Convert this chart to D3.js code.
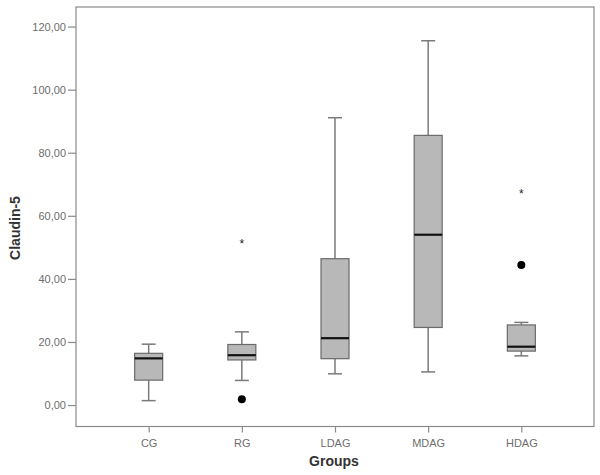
<!DOCTYPE html>
<html><head><meta charset="utf-8">
<script src="https://cdn.jsdelivr.net/npm/d3@7/dist/d3.min.js"></script>
<style>body{margin:0;background:#fff}</style>
</head><body>
<svg id="c" width="600" height="475"></svg>
<script>
const groups = ["CG","RG","LDAG","MDAG","HDAG"];
const whiskerLow  = [1.4, 7.8, 9.9, 10.5, 15.6];
const q1          = [7.9, 14.3, 14.7, 24.6, 17.1];
const median      = [14.8, 15.8, 21.2, 54.0, 18.5];
const q3          = [16.4, 19.2, 46.4, 85.5, 25.4];
const whiskerHigh = [19.3, 23.2, 91.1, 115.5, 26.2];
const outliers = [{g:"RG", v:1.8}, {g:"HDAG", v:44.4}];
const extremes = [{g:"RG", v:51.5}, {g:"HDAG", v:67.3}];
const yTicks = [0,20,40,60,80,100,120];

const svg = d3.select("#c");
const L=76, R=594, T=7, B=426.5;
const y = d3.scaleLinear().domain([-6.8,126.2]).range([B,T]);
const x = d3.scalePoint().domain(groups).range([L,R]).padding(0.78);
const fmt = d => d3.format(".2f")(d).replace(".",",");
const axisCol = "#8a8a8a";

// frame
svg.append("rect").attr("x",L).attr("y",T).attr("width",R-L).attr("height",B-T)
  .attr("fill","none").attr("stroke",axisCol).attr("stroke-width",1.2);

const yAxis = svg.append("g").attr("transform",`translate(${L},0)`)
  .call(d3.axisLeft(y).tickValues(yTicks).tickFormat(fmt).tickSize(8).tickPadding(2));
yAxis.select(".domain").remove();
yAxis.selectAll("line").attr("stroke",axisCol).attr("stroke-width",1.2);
yAxis.selectAll("text").attr("fill","#6e6e6e").style("font-family","Liberation Sans, Arial, sans-serif").style("font-size","11px");

const xAxis = svg.append("g").attr("transform",`translate(0,${B})`)
  .call(d3.axisBottom(x).tickSize(6).tickPadding(7));
xAxis.select(".domain").remove();
xAxis.selectAll("line").attr("stroke",axisCol).attr("stroke-width",1.2);
xAxis.selectAll("text").attr("fill","#6e6e6e").style("font-family","Liberation Sans, Arial, sans-serif").style("font-size","11px");

svg.append("text").attr("x",334).attr("y",466).attr("text-anchor","middle")
  .style("font-family","Liberation Sans, Arial, sans-serif").style("font-size","14px").style("font-weight","bold")
  .attr("fill","#333").text("Groups");
svg.append("text").attr("transform","translate(20,228) rotate(-90)").attr("text-anchor","middle")
  .style("font-family","Liberation Sans, Arial, sans-serif").style("font-size","14px").style("font-weight","bold")
  .attr("fill","#333").text("Claudin-5");

const bw=28, cw=14;
groups.forEach((g,i)=>{
  const cx=x(g);
  const wc="#7a7a7a";
  svg.append("line").attr("x1",cx).attr("x2",cx).attr("y1",y(whiskerHigh[i])).attr("y2",y(q3[i])).attr("stroke",wc).attr("stroke-width",1.5);
  svg.append("line").attr("x1",cx).attr("x2",cx).attr("y1",y(q1[i])).attr("y2",y(whiskerLow[i])).attr("stroke",wc).attr("stroke-width",1.5);
  svg.append("line").attr("x1",cx-cw/2).attr("x2",cx+cw/2).attr("y1",y(whiskerHigh[i])).attr("y2",y(whiskerHigh[i])).attr("stroke",wc).attr("stroke-width",1.5);
  svg.append("line").attr("x1",cx-cw/2).attr("x2",cx+cw/2).attr("y1",y(whiskerLow[i])).attr("y2",y(whiskerLow[i])).attr("stroke",wc).attr("stroke-width",1.5);
  svg.append("rect").attr("x",cx-bw/2).attr("y",y(q3[i])).attr("width",bw).attr("height",y(q1[i])-y(q3[i]))
    .attr("fill","#b8b8b8").attr("stroke","#6a6a6a").attr("stroke-width",1.2);
  svg.append("line").attr("x1",cx-bw/2).attr("x2",cx+bw/2).attr("y1",y(median[i])).attr("y2",y(median[i])).attr("stroke","#111").attr("stroke-width",2.2);
});
outliers.forEach(o=>{
  svg.append("circle").attr("cx",x(o.g)).attr("cy",y(o.v)).attr("r",4).attr("fill","#000");
});
extremes.forEach(o=>{
  svg.append("text").attr("x",x(o.g)).attr("y",y(o.v)+5).attr("text-anchor","middle")
    .style("font-family","Liberation Sans, Arial, sans-serif").style("font-size","12px").attr("fill","#222").text("*");
});
</script>
</body></html>
